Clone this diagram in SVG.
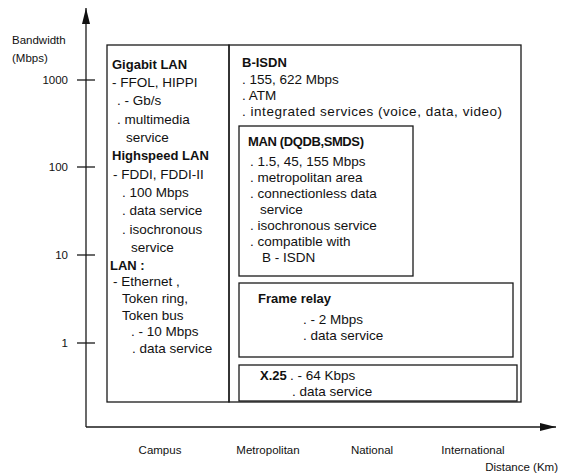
<svg xmlns="http://www.w3.org/2000/svg" width="561" height="473" viewBox="0 0 561 473">
  <style>
    .box { fill: none; stroke: #1a1a1a; stroke-width: 1.3; }
    .axis { stroke: #1a1a1a; stroke-width: 1.3; fill: none; }
    .t { font-family: "Liberation Sans", Arial, sans-serif; font-size: 13.5px; fill: #111; }
    .b { font-family: "Liberation Sans", Arial, sans-serif; font-size: 13px; font-weight: bold; fill: #111; }
    .s { font-family: "Liberation Sans", Arial, sans-serif; font-size: 11.5px; fill: #111; }
  </style>
  <defs>
    <marker id="arrow" viewBox="0 0 16 8" refX="16" refY="4" markerWidth="16" markerHeight="8" markerUnits="userSpaceOnUse" orient="auto">
      <path d="M0,0 L16,4 L0,8 Z" fill="#111"/>
    </marker>
  </defs>
  <rect width="561" height="473" fill="#fff"/>

  <!-- axes -->
  <g id="axes">
    <line class="axis" x1="86" y1="427" x2="86" y2="8" marker-end="url(#arrow)"/>
    <line class="axis" x1="86" y1="427" x2="556" y2="427" marker-end="url(#arrow)"/>
    <line class="axis" x1="77" y1="80" x2="95" y2="80"/>
    <line class="axis" x1="77" y1="167" x2="95" y2="167"/>
    <line class="axis" x1="77" y1="255" x2="95" y2="255"/>
    <line class="axis" x1="77" y1="343" x2="95" y2="343"/>
    <text class="s" x="12" y="44">Bandwidth</text>
    <text class="s" x="12" y="62">(Mbps)</text>
    <text class="s" x="68" y="84" text-anchor="end">1000</text>
    <text class="s" x="68" y="171" text-anchor="end">100</text>
    <text class="s" x="68" y="259" text-anchor="end">10</text>
    <text class="s" x="68" y="347" text-anchor="end">1</text>
    <text class="s" x="160" y="454" text-anchor="middle">Campus</text>
    <text class="s" x="268" y="454" text-anchor="middle">Metropolitan</text>
    <text class="s" x="372" y="454" text-anchor="middle">National</text>
    <text class="s" x="473" y="454" text-anchor="middle">International</text>
    <text class="s" x="558" y="471" text-anchor="end">Distance (Km)</text>
  </g>

  <!-- campus networks -->
  <g id="lan">
    <rect class="box" x="107" y="45" width="122" height="357"/>
    <text class="b" x="112" y="69">Gigabit LAN</text>
    <text class="t" x="112" y="87">- FFOL, HIPPI</text>
    <text class="t" x="117" y="105">. - Gb/s</text>
    <text class="t" x="117" y="123.5">. multimedia</text>
    <text class="t" x="126" y="141.5">service</text>
    <text class="b" x="112" y="160">Highspeed LAN</text>
    <text class="t" x="113" y="178.5">- FDDI, FDDI-II</text>
    <text class="t" x="122" y="196.5">. 100 Mbps</text>
    <text class="t" x="122" y="215">. data service</text>
    <text class="t" x="122" y="233.5">. isochronous</text>
    <text class="t" x="131" y="251.5">service</text>
    <text class="b" x="110" y="269.5">LAN :</text>
    <text class="t" x="113" y="286">- Ethernet ,</text>
    <text class="t" x="122" y="302.5">Token ring,</text>
    <text class="t" x="122" y="319.5">Token bus</text>
    <text class="t" x="131" y="336">.  - 10 Mbps</text>
    <text class="t" x="132" y="352.5">.  data service</text>
  </g>

  <!-- wide area networks -->
  <g id="bisdn">
    <rect class="box" x="229" y="45" width="292" height="357"/>
    <text class="b" x="242" y="67">B-ISDN</text>
    <text class="t" x="242" y="84">. 155, 622  Mbps</text>
    <text class="t" x="242" y="100">. ATM</text>
    <text class="t" x="242" y="116" textLength="260">. integrated services (voice, data, video)</text>
  </g>

  <g id="man">
    <rect class="box" x="239" y="126" width="174" height="150"/>
    <text class="b" x="248" y="146" textLength="116">MAN (DQDB,SMDS)</text>
    <text class="t" x="250" y="166">. 1.5, 45, 155 Mbps</text>
    <text class="t" x="250" y="182">. metropolitan area</text>
    <text class="t" x="250" y="198">. connectionless data</text>
    <text class="t" x="260" y="214">service</text>
    <text class="t" x="250" y="230">. isochronous service</text>
    <text class="t" x="250" y="246">. compatible with</text>
    <text class="t" x="262" y="262">B - ISDN</text>
  </g>

  <g id="frame-relay">
    <rect class="box" x="239" y="283" width="274" height="74"/>
    <text class="b" x="258" y="303">Frame relay</text>
    <text class="t" x="303" y="324">. - 2 Mbps</text>
    <text class="t" x="303" y="340">. data service</text>
  </g>

  <g id="x25">
    <rect class="box" x="239" y="365" width="278" height="36"/>
    <text class="b" x="260" y="380">X.25</text>
    <text class="t" x="290" y="380">. - 64  Kbps</text>
    <text class="t" x="292" y="396">. data service</text>
  </g>
</svg>
